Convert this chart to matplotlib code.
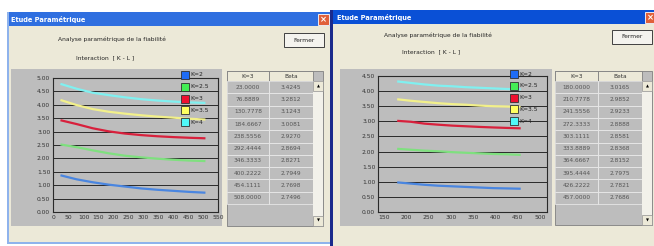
import matplotlib
matplotlib.use("Agg")
import matplotlib.pyplot as plt
from matplotlib.patches import Rectangle

series_labels = ["K=2", "K=2.5", "K=3", "K=3.5", "K=4"]

x_left = [23.0, 76.8889, 130.7778, 184.6667, 238.5556, 292.4444, 346.3333, 400.2222, 454.1111, 508.0]
k2_left = [1.37, 1.22, 1.11, 1.02, 0.95, 0.88, 0.83, 0.79, 0.75, 0.72]
k25_left = [2.52, 2.42, 2.30, 2.19, 2.10, 2.04, 1.99, 1.95, 1.92, 1.90]
k3_left = [3.4245, 3.2812, 3.1243, 3.0081, 2.9270, 2.8694, 2.8271, 2.7949, 2.7698, 2.7496]
k35_left = [4.18, 3.99, 3.84, 3.74, 3.67, 3.61, 3.56, 3.52, 3.48, 3.45]
k4_left = [4.78, 4.60, 4.45, 4.36, 4.28, 4.21, 4.16, 4.12, 4.09, 4.07]
xticks_left = [0, 50, 100, 150, 200, 250, 300, 350, 400, 450, 500, 550]
yticks_left = [0.0, 0.5, 1.0, 1.5, 2.0, 2.5, 3.0, 3.5, 4.0, 4.5, 5.0]

x_right = [180.0, 210.7778, 241.5556, 272.3333, 303.1111, 333.8889, 364.6667, 395.4444, 426.2222, 457.0]
k2_right = [0.98, 0.94, 0.90, 0.87, 0.85, 0.83, 0.81, 0.79, 0.78, 0.77]
k25_right = [2.09, 2.06, 2.03, 2.01, 1.98, 1.96, 1.94, 1.92, 1.91, 1.89]
k3_right = [3.0165, 2.9852, 2.9233, 2.8888, 2.8581, 2.8368, 2.8152, 2.7975, 2.7821, 2.7686]
k35_right = [3.73, 3.68, 3.64, 3.60, 3.57, 3.55, 3.52, 3.50, 3.49, 3.47]
k4_right = [4.32, 4.27, 4.22, 4.18, 4.16, 4.13, 4.11, 4.09, 4.07, 4.06]
xticks_right = [150, 200, 250, 300, 350, 400, 450, 500]
yticks_right = [0.0, 0.5, 1.0, 1.5, 2.0, 2.5, 3.0, 3.5, 4.0, 4.5]

window_title = "Etude Paramétrique"
subtitle = "Analyse paramétrique de la fiabilité"
chart_title = "Interaction  [ K - L ]"
button_text = "Fermer"
table_headers = ["K=3", "Beta"]

line_colors = ["#4a86e0", "#7fe07f", "#d8203c", "#f2f08a", "#80f0f0"]
box_colors = ["#1f6cf5", "#44ee55", "#ee1030", "#ffff60", "#50f8f8"]

W, H = 654, 246
BEIGE = "#ece9d8"
GRAY = "#bdbdbd"

fig = plt.figure(figsize=(W / 100, H / 100), dpi=100)
fig.patch.set_facecolor("white")
plt.rcParams["font.family"] = "DejaVu Sans"


def rect(x, y, w, h, zorder=1, **kw):
    fig.patches.append(Rectangle((x / W, 1 - (y + h) / H), w / W, h / H,
                                 transform=fig.transFigure, zorder=zorder, **kw))


def txt(x, y, s, **kw):
    fig.text(x / W, 1 - y / H, s, **kw)


def axes_px(x, y, w, h):
    return fig.add_axes([x / W, 1 - (y + h) / H, w / W, h / H])


def draw_window(win, bar_color):
    x0, y0, x1, y1 = win["box"]
    rect(x0, y0, x1 - x0, y1 - y0, facecolor=BEIGE, edgecolor="none")
    rect(x0, y0, x1 - x0, 14, facecolor=bar_color, edgecolor="none")
    txt(x0 + 4, y0 + 7.5, window_title, color="white", fontsize=4.8,
        fontweight="bold", va="center")
    cx = win["close_x"]
    rect(cx, y0 + 2, 11, 11, facecolor="#e0603a", edgecolor="white", lw=0.6)
    txt(cx + 5.5, y0 + 7.5, "×", color="white", fontsize=6, ha="center",
        va="center", fontweight="bold")
    bx, by = win["button"]
    rect(bx, by, 40, 14, facecolor="#f4f3ee", edgecolor="#404040", lw=0.7)
    txt(bx + 20, by + 7, button_text, fontsize=4.3, ha="center", va="center",
        color="#222222")
    sx, sy = win["subtitle"]
    txt(sx, sy, subtitle, fontsize=4.3, va="center", color="#222222")
    ix, iy = win["chart_title"]
    txt(ix, iy, chart_title, fontsize=4.3, va="center", color="#222222")

    # chart
    gx0, gy0, gx1, gy1 = win["gray"]
    rect(gx0, gy0, gx1 - gx0, gy1 - gy0, facecolor=GRAY, edgecolor="none")
    ax = axes_px(*win["plot"])
    ax.set_zorder(2)
    ax.set_facecolor(GRAY)
    for ys, color in zip(win["series"], line_colors):
        ax.plot(win["x"], ys, color=color, lw=1.6, solid_capstyle="butt", zorder=3)
    ax.set_xlim(*win["xlim"])
    ax.set_ylim(win["yticks"][0], win["yticks"][-1])
    ax.set_xticks(win["xticks"])
    ax.set_yticks(win["yticks"])
    ax.set_yticklabels([f"{v:.2f}" for v in win["yticks"]])
    ax.tick_params(labelsize=4.3, length=0, pad=2, colors="#333333")
    ax.grid(axis="y", color="#2a2a2a", lw=0.7, zorder=1)
    for sp in ax.spines.values():
        sp.set_color("#2a2a2a")
        sp.set_linewidth(0.8)

    # legend boxes
    lx, ly = win["legend"]
    for i, (lab, col) in enumerate(zip(series_labels, box_colors)):
        yy = ly + i * 11.8
        rect(lx, yy, 8, 8, zorder=5, facecolor=col, edgecolor="#303030", lw=0.6)
        txt(lx + 9.5, yy + 4, lab, fontsize=4.3, va="center", color="#222222",
            zorder=6)

    # table
    tx0, ty0, tx1, ty1 = win["table"]
    rect(tx0, ty0, tx1 - tx0, ty1 - ty0, facecolor=GRAY, edgecolor="#808080", lw=0.6)
    c0, c1, c2 = win["cols"]
    hh = 10
    rect(tx0, ty0, c0 - tx0, hh, facecolor=BEIGE, edgecolor="#808080", lw=0.6)
    rect(c0, ty0, c1 - c0, hh, facecolor=BEIGE, edgecolor="#808080", lw=0.6)
    txt((tx0 + c0) / 2, ty0 + hh / 2, table_headers[0], fontsize=4.2, ha="center",
        va="center", color="#333333")
    txt((c0 + c1) / 2, ty0 + hh / 2, table_headers[1], fontsize=4.2, ha="center",
        va="center", color="#333333")
    row_h = 12.3
    for r, (xv, bv) in enumerate(zip(win["x"], win["series"][2])):
        ry = ty0 + hh + r * row_h
        rect(tx0, ry, c0 - tx0, row_h, facecolor="none", edgecolor="#e6e6e6", lw=0.6)
        rect(c0, ry, c1 - c0, row_h, facecolor="none", edgecolor="#e6e6e6", lw=0.6)
        txt((tx0 + c0) / 2, ry + row_h / 2, f"{xv:.4f}", fontsize=4.2,
            ha="center", va="center", color="#555555")
        txt((c0 + c1) / 2, ry + row_h / 2, f"{bv:.4f}", fontsize=4.2,
            ha="center", va="center", color="#555555")
    # scrollbar
    rect(c1, ty0 + hh, c2 - c1, ty1 - ty0 - hh, facecolor="#f2f1ea", edgecolor="none")
    rect(c1, ty0 + hh, c2 - c1, 10, facecolor=BEIGE, edgecolor="#909090", lw=0.5)
    rect(c1, ty1 - 10, c2 - c1, 10, facecolor=BEIGE, edgecolor="#909090", lw=0.5)
    txt((c1 + c2) / 2, ty0 + hh + 5, "▲", fontsize=2.8, ha="center", va="center")
    txt((c1 + c2) / 2, ty1 - 5, "▼", fontsize=2.8, ha="center", va="center")


left_win = {
    "box": (7, 12, 331, 243),
    "close_x": 318,
    "button": (284, 33),
    "subtitle": (58, 39),
    "chart_title": (76, 58),
    "gray": (11, 69, 222, 226),
    "plot": (53, 78, 165, 134),
    "x": x_left,
    "series": [k2_left, k25_left, k3_left, k35_left, k4_left],
    "xlim": (-2, 546),
    "xticks": xticks_left,
    "yticks": yticks_left,
    "legend": (181, 71),
    "table": (227, 71, 323, 226),
    "cols": (269, 313, 323),
}

right_win = {
    "box": (333, 10, 654, 246),
    "close_x": 645,
    "button": (612, 30),
    "subtitle": (384, 35),
    "chart_title": (402, 52),
    "gray": (340, 69, 552, 226),
    "plot": (378, 76, 169, 136),
    "x": x_right,
    "series": [k2_right, k25_right, k3_right, k35_right, k4_right],
    "xlim": (137, 516),
    "xticks": xticks_right,
    "yticks": yticks_right,
    "legend": (510, 70),
    "table": (555, 71, 652, 225),
    "cols": (598, 642, 652),
}

draw_window(left_win, "#2f6fe0")
draw_window(right_win, "#0a50d6")
# borders of the two windows
rect(7, 12, 1.5, 231, facecolor="#8fb3ec", edgecolor="none")
rect(7, 242, 324, 1.5, facecolor="#8fb3ec", edgecolor="none")
rect(330, 10, 3, 236, facecolor="#1a2a8c", edgecolor="none")

fig.savefig("out.png", dpi=100, facecolor=fig.get_facecolor())
